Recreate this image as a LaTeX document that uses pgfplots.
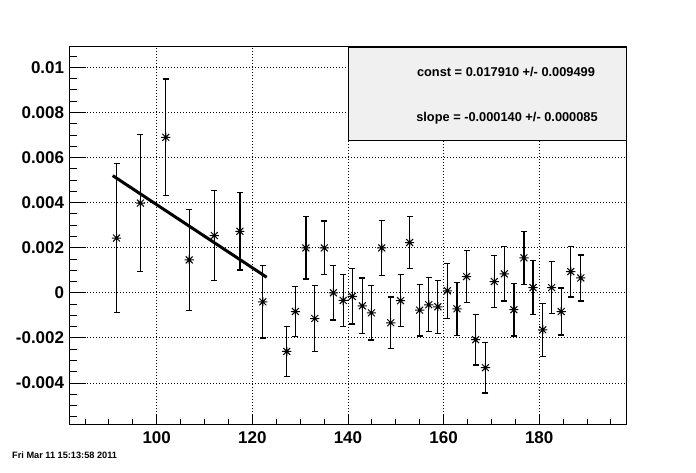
\documentclass[border=0pt]{standalone}
\usepackage{pgfplots}
\pgfplotsset{compat=1.18}
\usepackage{fontspec}
\setmainfont{Liberation Sans}
\pgfdeclareplotmark{rootstar}{%
 \pgfpathmoveto{\pgfqpoint{-\pgfplotmarksize}{0pt}}\pgfpathlineto{\pgfqpoint{\pgfplotmarksize}{0pt}}%
 \pgfpathmoveto{\pgfqpoint{0pt}{-\pgfplotmarksize}}\pgfpathlineto{\pgfqpoint{0pt}{\pgfplotmarksize}}%
 \pgfpathmoveto{\pgfqpoint{-.75\pgfplotmarksize}{-.75\pgfplotmarksize}}\pgfpathlineto{\pgfqpoint{.75\pgfplotmarksize}{.75\pgfplotmarksize}}%
 \pgfpathmoveto{\pgfqpoint{-.75\pgfplotmarksize}{.75\pgfplotmarksize}}\pgfpathlineto{\pgfqpoint{.75\pgfplotmarksize}{-.75\pgfplotmarksize}}%
 \pgfusepathqstroke
 \pgfpathcircle{\pgfpointorigin}{1.3pt}\pgfusepathqfill}
\definecolor{boxgray}{RGB}{240,240,240}
\pgfplotstableread{
x y e
91.6 0.00243 0.0033
96.6 0.00398 0.00303
101.9 0.0069 0.00259
106.8 0.00146 0.00225
112.05 0.00254 0.00199
117.4 0.00273 0.00172
122.2 -0.0004 0.0016
127.2 -0.0026 0.0011
129.0 -0.00083 0.00112
131.2 0.00199 0.00138
133.05 -0.00114 0.00145
135.06 0.00199 0.00119
136.95 0.0 0.00121
139.0 -0.00034 0.00115
140.9 -0.00016 0.00123
143.0 -0.00058 0.00124
144.9 -0.00089 0.0012
147.07 0.00199 0.00121
148.95 -0.00133 0.00115
151.0 -0.00035 0.00115
152.9 0.00223 0.00115
155.0 -0.00077 0.00115
156.9 -0.00053 0.0012
158.8 -0.00062 0.00117
160.8 0.00009 0.00122
162.8 -0.00071 0.00117
164.8 0.00072 0.00115
166.7 -0.00208 0.00112
168.75 -0.00332 0.00113
170.6 0.0005 0.00116
172.7 0.00084 0.0012
174.7 -0.00075 0.00117
176.8 0.00155 0.00118
178.7 0.00023 0.0012
180.75 -0.00164 0.00118
182.6 0.00023 0.00115
184.6 -0.00083 0.00104
186.6 0.00094 0.00112
188.7 0.00066 0.00102
}\datatable
\pgfplotsset{
  rootaxis/.style={
    at={(69.3pt,48pt)}, anchor=south west,
    scale only axis, width=557.4pt, height=377.3pt,
    xmin=81.72, xmax=198.3, ymin=-0.00582, ymax=0.010917,
    axis line style={line width=1pt},
    tick pos=left, tick align=inside,
    every tick/.style={black, line width=0.9pt},
    grid style={black, line width=0.8pt, dash pattern=on 1pt off 2pt},
    scaled ticks=false,
    ticklabel style={font=\bfseries\fontsize{17}{17}\selectfont, inner sep=0pt},
  }
}
\begin{document}
\begin{tikzpicture}
\path[use as bounding box] (0,0) rectangle (696pt,472pt);
% y ticks and grid
\begin{axis}[rootaxis,
  xtick=\empty,
  ytick={-0.004,-0.002,0,0.002,0.004,0.006,0.008,0.01},
  yticklabels={-0.004,-0.002,0,0.002,0.004,0.006,0.008,0.01},
  minor ytick={-0.0055,-0.005,-0.0045,-0.0035,-0.003,-0.0025,-0.0015,-0.001,-0.0005,0.0005,0.001,0.0015,0.0025,0.003,0.0035,0.0045,0.005,0.0055,0.0065,0.007,0.0075,0.0085,0.009,0.0095,0.0105},
  major tick length=16.7pt, minor tick length=7.3pt,
  ymajorgrids,
  yticklabel style={xshift=-5pt},
]
\end{axis}
% x ticks, grid and data
\begin{axis}[rootaxis,
  ytick=\empty,
  xtick={100,120,140,160,180},
  xticklabels={100,120,140,160,180},
  minor xtick={85,90,95,105,110,115,125,130,135,145,150,155,165,170,175,185,190,195},
  major tick length=9pt, minor tick length=5pt,
  xmajorgrids,
  xticklabel style={yshift=-7.7pt},
]
\addplot[black, line width=1pt, only marks, mark=rootstar, mark size=4.6pt,
  error bars/.cd, y dir=both, y explicit,
  error bar style={line width=1.3pt},
  error mark options={rotate=90, mark size=3pt, line width=1.3pt}]
  table[x=x, y=y, y error=e]{\datatable};
\addplot[black, line width=3pt, no marks] coordinates {(90.8,0.005198) (123.0,0.000690)};
\end{axis}
\draw[black, line width=1pt, fill=boxgray] (348.3pt,331.3pt) rectangle (626.5pt,424.5pt);
\node[font=\bfseries\fontsize{12.8}{12.8}\selectfont, inner sep=0pt] at (506pt,400.3pt) {const = 0.017910 +/- 0.009499};
\node[font=\bfseries\fontsize{12.8}{12.8}\selectfont, inner sep=0pt] at (507pt,353.7pt) {slope = -0.000140 +/- 0.000085};
\node[font=\bfseries\fontsize{9.2}{9.2}\selectfont, inner sep=0pt, anchor=west] at (12pt,17pt) {Fri Mar 11 15:13:58 2011};
\end{tikzpicture}
\end{document}
